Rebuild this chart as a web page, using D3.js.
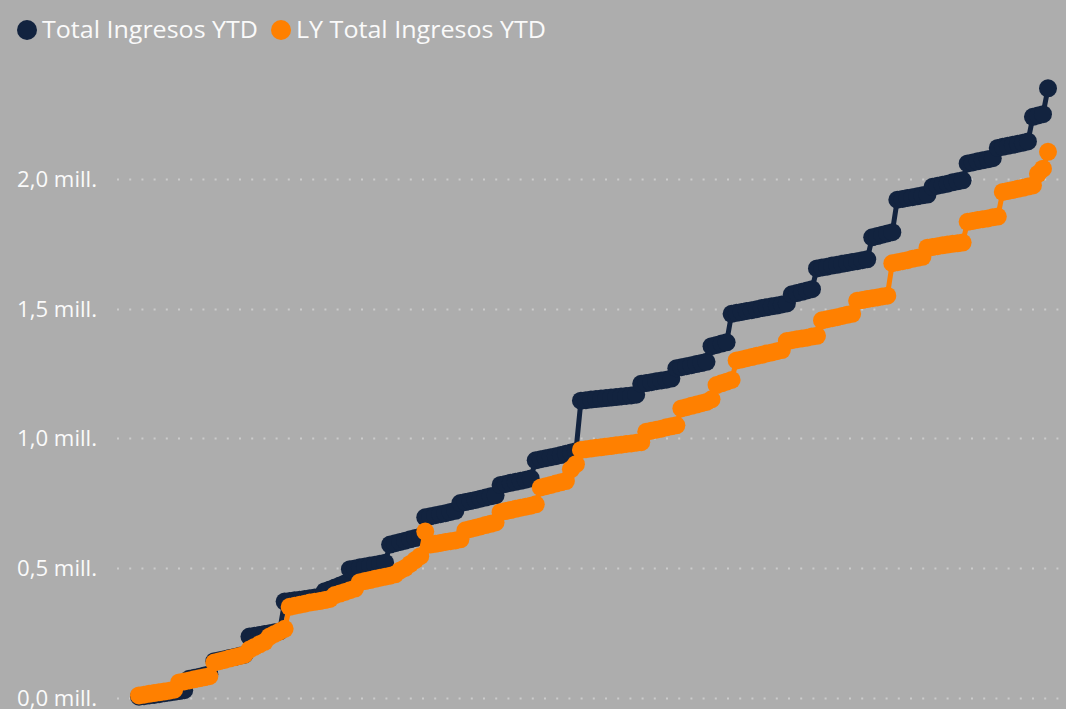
<!DOCTYPE html>
<html>
<head>
<meta charset="utf-8">
<script src="https://cdn.jsdelivr.net/npm/d3@7"></script>
<style>
  html, body { margin: 0; padding: 0; background: #adadad; }
  svg { display: block; }
  text { font-family: "Segoe UI", "Open Sans", "Noto Sans", sans-serif; }
</style>
</head>
<body>
<svg id="chart" width="1066" height="709"></svg>
<script>
// ---- Data (values in millions, one point per day, YTD cumulative) ----
const seriesNames = ["Total Ingresos YTD", "LY Total Ingresos YTD"];
const seriesColors = ["#12233f", "#ff8000"];
const yTickValues = [0, 0.5, 1.0, 1.5, 2.0];
const yTickLabels = ["0,0 mill.", "0,5 mill.", "1,0 mill.", "1,5 mill.", "2,0 mill."];

const totalYTD = [
  0.003,0.005,0.008,0.010,0.013,0.016,0.019,0.022,0.025,0.028,
  0.072,0.076,0.080,0.085,0.090,
  0.140,0.144,0.148,0.152,0.156,0.161,0.165,
  0.235,0.238,0.241,0.245,0.248,0.252,0.255,
  0.370,0.372,0.375,0.377,0.380,0.383,0.386,0.389,
  0.410,0.417,0.424,0.432,0.440,
  0.495,0.498,0.502,0.505,0.509,0.512,0.516,0.520,
  0.590,0.595,0.600,0.605,0.610,0.615,0.620,
  0.695,0.699,0.703,0.707,0.711,0.716,0.720,
  0.750,0.754,0.758,0.762,0.767,0.771,0.776,0.780,
  0.820,0.824,0.828,0.832,0.836,0.840,0.845,
  0.915,0.919,0.923,0.927,0.931,0.935,0.940,0.945,0.950,
  1.145,1.147,1.149,1.151,1.153,1.155,1.157,1.159,1.161,1.163,1.165,1.168,
  1.210,1.213,1.216,1.220,1.223,1.226,1.230,
  1.270,1.274,1.278,1.282,1.286,1.290,1.295,
  1.355,1.360,1.365,1.370,
  1.480,1.484,1.487,1.491,1.494,1.498,1.502,1.505,1.509,1.512,1.516,1.520,
  1.555,1.560,1.565,1.570,1.575,
  1.655,1.659,1.662,1.666,1.669,1.673,1.676,1.680,1.683,1.687,1.690,
  1.775,1.780,1.785,1.790,1.795,
  1.920,1.923,1.927,1.930,1.933,1.937,1.940,
  1.970,1.974,1.978,1.982,1.987,1.991,1.995,
  2.060,2.064,2.068,2.072,2.076,2.080,
  2.120,2.124,2.128,2.132,2.136,2.140,2.145,
  2.240,2.245,2.250,
  2.350
];

const lyTotalYTD = [
  0.008,0.011,0.014,0.017,0.020,0.023,0.026,0.030,
  0.058,0.062,0.066,0.070,0.074,0.078,0.082,
  0.135,0.140,0.145,0.150,0.155,0.160,0.165,
  0.185,0.195,0.205,0.215,
  0.235,0.245,0.255,0.265,
  0.350,0.354,0.358,0.362,0.366,0.369,0.372,0.376,0.380,
  0.395,0.401,0.407,0.414,0.420,
  0.445,0.449,0.453,0.458,0.462,0.466,0.470,0.475,
  0.490,0.500,0.515,
  0.530,0.545,
  0.640,
  0.590,0.593,0.596,0.600,0.603,0.606,0.610,
  0.645,0.650,0.655,0.660,0.665,0.670,0.675,
  0.715,0.719,0.723,0.728,0.732,0.736,0.740,0.745,
  0.810,0.815,0.820,0.825,0.830,0.835,
  0.880,0.900,
  0.955,0.958,0.960,0.963,0.965,0.968,0.970,0.973,0.975,0.978,0.980,0.983,0.985,
  1.025,1.029,1.033,1.037,1.042,1.046,1.050,
  1.115,1.120,1.125,1.130,1.135,1.140,1.150,
  1.205,1.212,1.218,1.225,
  1.300,1.304,1.309,1.313,1.318,1.322,1.327,1.331,1.336,1.340,
  1.375,1.378,1.382,1.385,1.388,1.392,1.395,
  1.455,1.459,1.463,1.467,1.472,1.476,1.480,
  1.530,1.533,1.537,1.540,1.543,1.547,1.550,
  1.675,1.679,1.683,1.687,1.692,1.696,1.700,
  1.735,1.738,1.741,1.744,1.747,1.750,1.752,1.755,
  1.835,1.838,1.842,1.845,1.848,1.852,1.855,
  1.950,1.954,1.958,1.962,1.966,1.971,1.975,
  2.020,2.040,
  2.105
];

// Day categories (Jan 1 onward)
const startDate = new Date(2023, 0, 1);
const dates = totalYTD.map((_, i) => d3.timeDay.offset(startDate, i));

// ---- Chart ----
const W = 1066, H = 709;
const svg = d3.select("#chart");
svg.append("rect").attr("width", W).attr("height", H).attr("fill", "#adadad");

const x = d3.scaleTime()
  .domain([dates[0], dates[dates.length - 1]])
  .range([139, 1048]);
const y = d3.scaleLinear().domain([0, 2.0]).range([697.5, 179]);

// gridlines
const grid = svg.append("g");
grid.selectAll("line").data(yTickValues).join("line")
  .attr("x1", 117).attr("x2", W)
  .attr("y1", d => Math.round(y(d)) + 0.5).attr("y2", d => Math.round(y(d)) + 0.5)
  .attr("stroke", "#cbcbcb").attr("stroke-width", 2)
  .attr("stroke-dasharray", "2,10.2");

// y axis labels
const yAxis = d3.axisLeft(y).tickValues(yTickValues)
  .tickFormat((d, i) => yTickLabels[i]).tickSize(0).tickPadding(0);
const gy = svg.append("g").attr("transform", "translate(97,0)").call(yAxis);
gy.select(".domain").remove();
gy.selectAll("text")
  .attr("fill", "#fafafa")
  .attr("font-size", 22)
  .attr("font-family", "'Segoe UI','Open Sans','Noto Sans',sans-serif")
  .attr("textLength", 80)
  .attr("lengthAdjust", "spacingAndGlyphs")
  .attr("dy", "0.35em");

// series
const seriesData = [totalYTD, lyTotalYTD];
const line = d3.line().x((d, i) => x(dates[i])).y(d => y(d));
seriesData.forEach((vals, s) => {
  const g = svg.append("g");
  g.append("path").datum(vals)
    .attr("d", line)
    .attr("fill", "none")
    .attr("stroke", seriesColors[s])
    .attr("stroke-width", 5)
    .attr("stroke-linejoin", "round");
  g.selectAll("circle").data(vals).join("circle")
    .attr("cx", (d, i) => x(dates[i]))
    .attr("cy", d => y(d))
    .attr("r", 9)
    .attr("fill", seriesColors[s]);
});

// legend
const legend = svg.append("g");
const legendX = [27, 281];
const legendW = [216, 250];
seriesNames.forEach((name, i) => {
  legend.append("circle").attr("cx", legendX[i]).attr("cy", 30).attr("r", 10)
    .attr("fill", seriesColors[i]);
  legend.append("text").attr("x", legendX[i] + 15).attr("y", 30)
    .attr("dy", "0.35em")
    .attr("fill", "#fafafa")
    .attr("font-size", 23)
    .attr("textLength", legendW[i])
    .attr("lengthAdjust", "spacingAndGlyphs")
    .text(name);
});
</script>
</body>
</html>
